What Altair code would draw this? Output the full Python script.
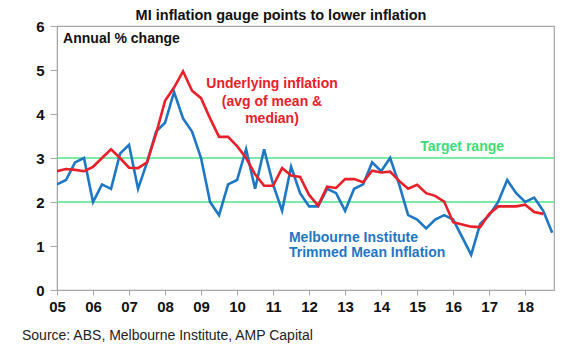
import altair as alt
import pandas as pd

# Quarterly data 2005Q1 .. 2018Q4 (time in decimal years)
blue_vals = [
    2.4, 2.5, 2.9, 3.0,
    2.0, 2.4, 2.3, 3.1,
    3.3, 2.3, 2.9, 3.6,
    3.8, 4.5, 3.9, 3.6,
    3.0, 2.0, 1.7, 2.4,
    2.5, 3.2, 2.3, 3.2,
    2.4, 1.8, 2.8, 2.2,
    1.9, 1.9, 2.3, 2.2,
    1.8, 2.3, 2.4, 2.9,
    2.7, 3.0, 2.4, 1.7,
    1.6, 1.4, 1.6, 1.7,
    1.6, 1.2, 0.8, 1.5,
    1.7, 2.0, 2.5, 2.2,
    2.0, 2.1, 1.8, 1.3,
]
red_vals = [
    2.7, 2.75, 2.73, 2.7,
    2.8, 3.0, 3.2, 3.0,
    2.78, 2.77, 2.9, 3.55,
    4.3, 4.6, 4.97, 4.53,
    4.36, 3.9, 3.48, 3.48,
    3.27, 3.0, 2.63, 2.37,
    2.37, 2.77, 2.6, 2.57,
    2.16, 1.92, 2.35, 2.32,
    2.52, 2.52, 2.45, 2.71,
    2.67, 2.69, 2.48, 2.3,
    2.39, 2.2, 2.14, 2.01,
    1.54, 1.49, 1.44, 1.43,
    1.73, 1.9, 1.9, 1.9,
    1.94, 1.77, 1.73,
]
year_ticks = list(range(2005, 2019))
y_ticks = list(range(0, 7))
target_band = [2, 3]

RED = "#e8202a"
BLUE = "#1f77c4"
GREEN = "#4fe68a"
GREEN_TXT = "#3ddc78"
GRAY = "#a6a6a6"
FONT = "Liberation Sans"

t_blue = [2005 + 0.25 * i for i in range(len(blue_vals))]
t_red = [2005 + 0.25 * i for i in range(len(red_vals))]
df_blue = pd.DataFrame({"t": t_blue, "v": blue_vals})
df_red = pd.DataFrame({"t": t_red, "v": red_vals})

xscale = alt.Scale(domain=[2005, 2018.8], nice=False, zero=False)
yscale = alt.Scale(domain=[0, 6], nice=False)

xaxis = alt.Axis(values=year_ticks, labelExpr="slice(toString(datum.value), 2)",
                 title=None, grid=False, domainColor=GRAY, tickColor=GRAY,
                 tickSize=5, labelFont=FONT, labelFontSize=15, labelFontWeight="bold",
                 labelColor="#111", labelPadding=4, labelFlush=False, labelOverlap=False,
                 labelBound=False)
yaxis = alt.Axis(values=y_ticks, title=None, grid=False, domainColor=GRAY,
                 tickColor=GRAY, tickSize=7, labelFont=FONT, labelFontSize=15,
                 labelFontWeight="bold", labelColor="#111", labelPadding=6,
                 labelOverlap=False)

X = alt.X("t:Q", scale=xscale, axis=xaxis)
Y = alt.Y("v:Q", scale=yscale, axis=yaxis)

blue_line = alt.Chart(df_blue).mark_line(strokeWidth=2.6, color=BLUE, clip=True).encode(
    x=X, y=Y, order=alt.Order("t:Q"),
)
red_line = alt.Chart(df_red).mark_line(strokeWidth=2.6, color=RED, clip=True).encode(
    x=X, y=Y, order=alt.Order("t:Q"),
)

band_df = pd.DataFrame({"v": target_band})
band = alt.Chart(band_df).mark_rule(color=GREEN, strokeWidth=1.6).encode(y=Y)


def text_layer(rows, color, align):
    d = pd.DataFrame(rows, columns=["t", "v", "txt"])
    return alt.Chart(d).mark_text(font=FONT, fontSize=14, fontWeight="bold",
                                  baseline="middle", align=align, color=color).encode(
        x=X, y=Y, text="txt:N",
    )


red_txt = text_layer([
    (2010.97, 4.68, "Underlying inflation"),
    (2010.97, 4.27, "(avg of mean &"),
    (2010.97, 3.89, "median)"),
], RED, "center")
green_txt = text_layer([(2016.25, 3.25, "Target range")], GREEN_TXT, "center")
blue_txt = text_layer([
    (2011.44, 1.18, "Melbourne Institute"),
    (2011.44, 0.84, "Trimmed Mean Inflation"),
], BLUE, "left")
black_txt = text_layer([(2005.17, 5.7, "Annual % change")], "#111", "left")

title = alt.Chart(pd.DataFrame({"txt": ["MI inflation gauge points to lower inflation"]})).mark_text(
    font=FONT, fontSize=14.5, fontWeight="bold", align="center", baseline="middle", color="#111"
).encode(x=alt.value(224), y=alt.value(-10), text="txt:N")

source = alt.Chart(pd.DataFrame({"txt": ["Source: ABS, Melbourne Institute, AMP Capital"]})).mark_text(
    font=FONT, fontSize=14, align="left", baseline="middle", color="#222"
).encode(x=alt.value(-35), y=alt.value(310), text="txt:N")

chart = alt.layer(band, blue_line, red_line, red_txt, green_txt, blue_txt, black_txt, title, source).properties(
    width=497, height=264,
    autosize=alt.AutoSizeParams(type="none"),
    padding={"left": 57, "top": 26, "right": 26, "bottom": 62},
    background="white",
).configure_view(stroke=GRAY, strokeWidth=1.2)

chart.save("out.html", embed_options={"renderer": "svg", "actions": False})
